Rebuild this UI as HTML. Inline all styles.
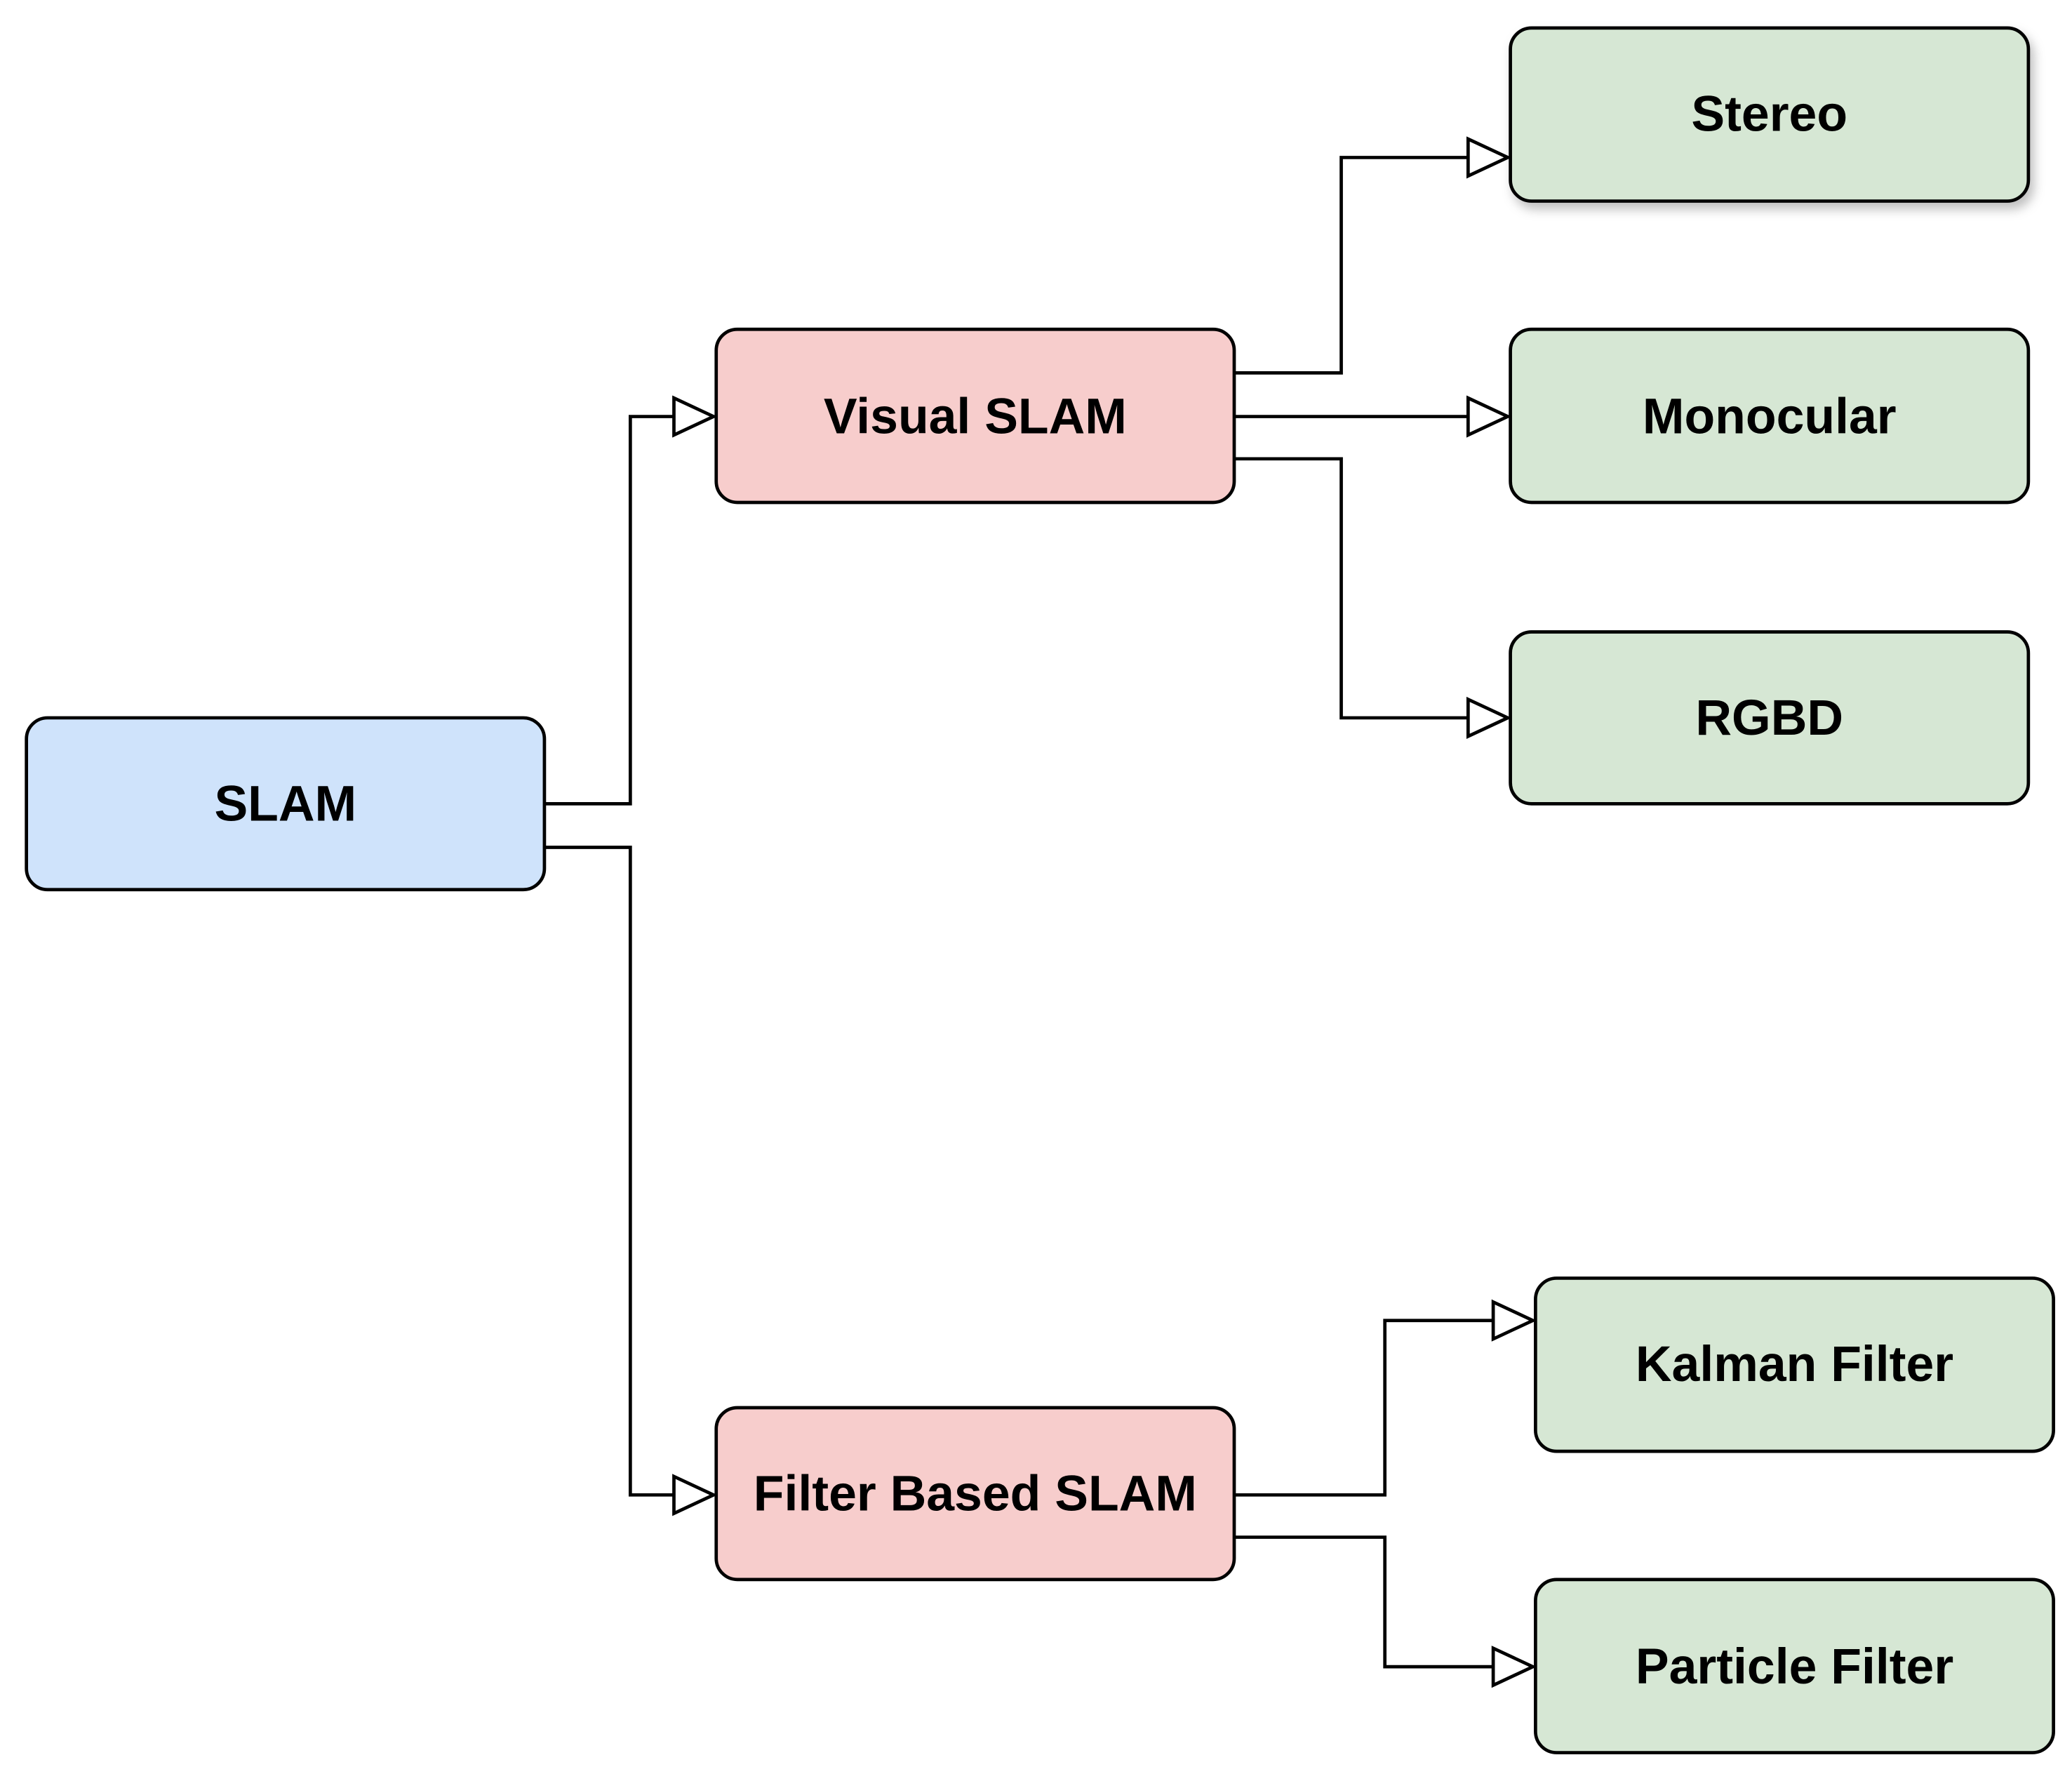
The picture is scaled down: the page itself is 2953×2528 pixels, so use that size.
<!DOCTYPE html>
<html><head><meta charset="utf-8"><style>
html,body{margin:0;padding:0;background:#fff;}
svg{display:block;}
text{font-family:"Liberation Sans",Arial,sans-serif;font-weight:bold;font-size:38px;fill:#000;}
</style></head><body>
<svg width="2953" height="2528" viewBox="0 0 1568 1342" xmlns="http://www.w3.org/2000/svg">
<defs>
<filter id="sh" x="-10%" y="-10%" width="130%" height="140%"><feDropShadow dx="3" dy="5" stdDeviation="4" flood-color="#000" flood-opacity="0.25"/></filter>
</defs>
<g fill="none" stroke="#000" stroke-width="2.5">
<polyline points="412,608 477,608 477,315 512,315"/>
<polyline points="412,641 477,641 477,1131 512,1131"/>
<polyline points="934,282 1015,282 1015,119 1113,119"/>
<polyline points="934,315 1113,315"/>
<polyline points="934,347 1015,347 1015,543 1113,543"/>
<polyline points="934,1131 1048,1131 1048,999 1132,999"/>
<polyline points="934,1163 1048,1163 1048,1261 1132,1261"/>
</g>
<g fill="#fff" stroke="#000" stroke-width="2.5">
<polygon points="510,301 540,315 510,329"/>
<polygon points="510,1117 540,1131 510,1145"/>
<polygon points="1111,105 1141,119 1111,133"/>
<polygon points="1111,301 1141,315 1111,329"/>
<polygon points="1111,529 1141,543 1111,557"/>
<polygon points="1130,985 1160,999 1130,1013"/>
<polygon points="1130,1247 1160,1261 1130,1275"/>
</g>
<g stroke="#000" stroke-width="2.5">
<rect x="20" y="543" width="392" height="130" rx="16" fill="#cfe3fb"/>
<rect x="542" y="249" width="392" height="131" rx="16" fill="#f7cdcc"/>
<rect x="542" y="1065" width="392" height="130" rx="16" fill="#f7cdcc"/>
<rect x="1143" y="21" width="392" height="131" rx="16" fill="#d6e7d4" filter="url(#sh)"/>
<rect x="1143" y="249" width="392" height="131" rx="16" fill="#d6e7d4"/>
<rect x="1143" y="478" width="392" height="130" rx="16" fill="#d6e7d4"/>
<rect x="1162" y="967" width="392" height="131" rx="16" fill="#d6e7d4"/>
<rect x="1162" y="1195" width="392" height="131" rx="16" fill="#d6e7d4"/>
</g>
<g text-anchor="middle" dominant-baseline="central">
<text x="216" y="608">SLAM</text>
<text x="738" y="315">Visual SLAM</text>
<text x="738" y="1130">Filter Based SLAM</text>
<text x="1339" y="86">Stereo</text>
<text x="1339" y="315">Monocular</text>
<text x="1339" y="543">RGBD</text>
<text x="1358" y="1032">Kalman Filter</text>
<text x="1358" y="1261">Particle Filter</text>
</g>
</svg>
</body></html>
